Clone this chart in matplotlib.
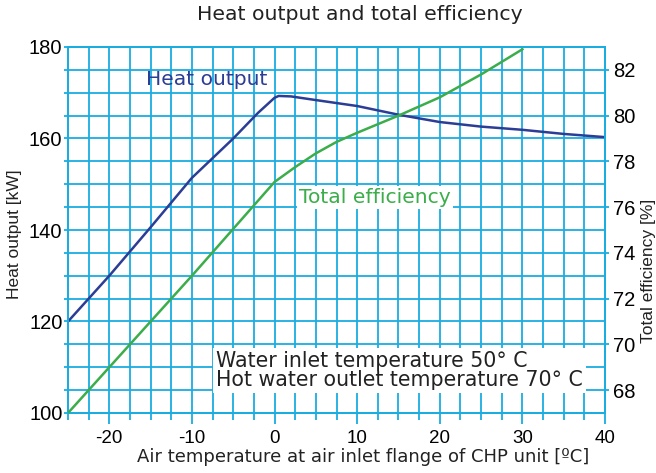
import numpy as np
import matplotlib.pyplot as plt
from matplotlib.ticker import MultipleLocator

plt.rcParams['axes.unicode_minus'] = False

# air temperature [degC] and heat output [kW]
temp_heat = [-25, -20, -15, -10, -5, -2, 0, 0.5, 2, 5, 10, 15, 20, 25, 30, 35, 40]
heat_output = [120, 130, 140.6, 151.4, 160.0, 165.6, 168.9, 169.3, 169.2, 168.4, 167.1, 165.2, 163.6, 162.6, 161.9, 161.0, 160.3]

# air temperature [degC] and total efficiency [%]
temp_eff = [-25, -20, -10, 0, 2.5, 5, 7.5, 10, 15, 20, 25, 30]
total_eff = [67.0, 69.0, 73.0, 77.1, 77.75, 78.35, 78.85, 79.25, 80.0, 80.8, 81.8, 82.9]

grid_col = '#1aade2'
blue = '#2c3d95'
green = '#3bad4a'
tick_font = 'Liberation Sans'

fig = plt.figure(figsize=(6.56, 4.73), dpi=100)
ax = fig.add_axes([68 / 656, 1 - 413 / 473, 537 / 656, 366 / 473])
ax2 = ax.twinx()

ax.set_xlim(-25, 40)
ax.set_ylim(100, 180)
ax2.set_ylim(67, 83)

ax.xaxis.set_major_locator(MultipleLocator(10))
ax.xaxis.set_minor_locator(MultipleLocator(2.5))
ax.yaxis.set_major_locator(MultipleLocator(20))
ax.yaxis.set_minor_locator(MultipleLocator(5))
ax2.set_yticks(np.arange(68, 83, 2))

ax.grid(True, which='both', color=grid_col, lw=1.3, zorder=0)
ax.set_axisbelow(True)

for a in (ax, ax2):
    for s in a.spines.values():
        s.set_color(grid_col)
        s.set_linewidth(1.4)

ax.tick_params(axis='x', which='major', length=8, width=1.3, color=grid_col,
               labelsize=13.5, pad=4)
ax.tick_params(axis='x', which='minor', length=5, width=1.3, color=grid_col)
ax.tick_params(axis='y', which='both', length=3, width=1.3, color=grid_col,
               labelsize=14.5, pad=1)
ax2.tick_params(axis='y', length=3, width=1.3, color=grid_col, labelsize=14.5, pad=3)
for lab in ax.get_xticklabels() + ax.get_yticklabels() + ax2.get_yticklabels():
    lab.set_fontfamily(tick_font)

ax.plot(temp_heat, heat_output, color=blue, lw=1.8, zorder=3)
ax2.plot(temp_eff, total_eff, color=green, lw=1.8, zorder=3)

ax.text(-15.6, 172.8, 'Heat output', color=blue, fontsize=14.6, va='center', zorder=4)
ax.text(3.0, 147.2, 'Total efficiency', color=green, fontsize=14.6, va='center', zorder=4,
        bbox=dict(facecolor='white', edgecolor='none', pad=1.5))
ax.text(-7.1, 109.3, 'Water inlet temperature 50° C\nHot water outlet temperature 70° C',
        fontsize=14.8, color='#222222', va='center', linespacing=0.95, zorder=4,
        bbox=dict(facecolor='white', edgecolor='none', pad=2))

fig.text(360 / 656, 1 - 15 / 473, 'Heat output and total efficiency', fontsize=14.7,
         ha='center', va='center', color='#222222')
fig.text(363 / 656, 1 - 457 / 473, 'Air temperature at air inlet flange of CHP unit [ºC]',
         fontsize=13, ha='center', va='center', color='#222222')
fig.text(15 / 656, 1 - 234 / 473, 'Heat output [kW]', fontsize=12.5, rotation=90,
         ha='center', va='center', family=tick_font, color='#222222')
fig.text(648 / 656, 1 - 271 / 473, 'Total efficiency [%]', fontsize=12.5, rotation=90,
         ha='center', va='center', family=tick_font, color='#222222')

fig.savefig('out.png', dpi=100)
